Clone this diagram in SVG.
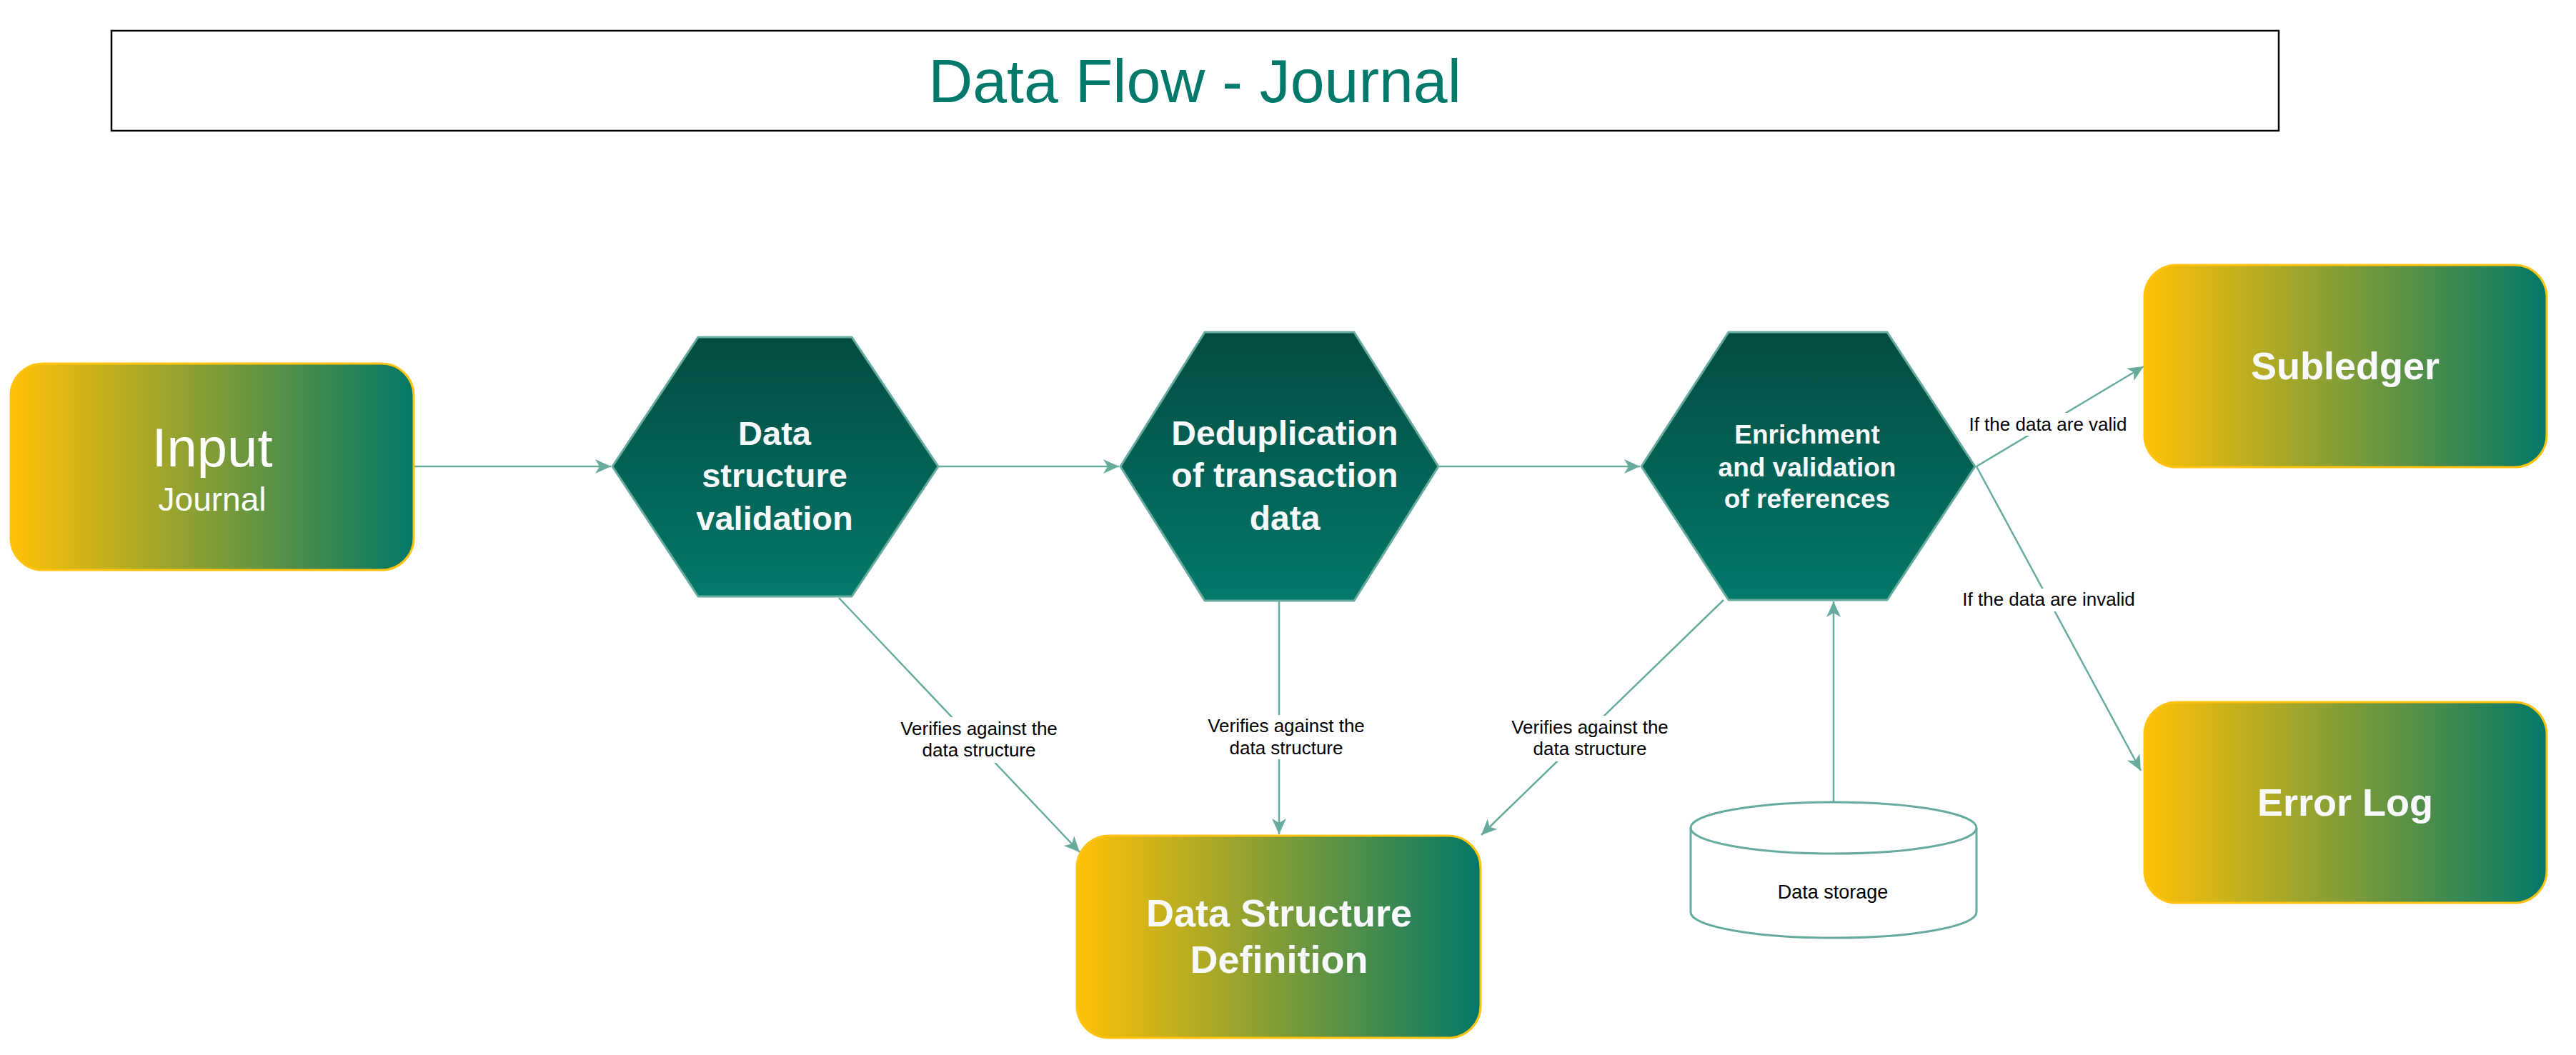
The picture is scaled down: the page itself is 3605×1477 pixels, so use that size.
<svg xmlns="http://www.w3.org/2000/svg" width="3605" height="1477" viewBox="0 0 3605 1477">
<style>
.hex{stroke:#67AB9F;stroke-width:3;stroke-linejoin:round;fill:url(#hexGrad)}
.box{stroke:#FFC20E;stroke-width:3;fill:url(#boxGrad)}
.ht{font-family:"Liberation Sans",Arial,sans-serif;font-weight:bold;fill:#F8F9FC;text-anchor:middle}
.bt{font-family:"Liberation Sans",Arial,sans-serif;font-weight:bold;fill:#F8F9FC;text-anchor:middle;font-size:54px}
.conn{stroke:#67AB9F;stroke-width:2.5;fill:none;marker-end:url(#arrow)}
.lbl{font-family:"Liberation Sans",Arial,sans-serif;font-size:26px;fill:#000;text-anchor:middle}
.lblbg{fill:#FFFFFF}
</style>
<defs>
<linearGradient id="hexGrad" x1="0" y1="0" x2="0" y2="1">
<stop offset="0" stop-color="#034B40"/>
<stop offset="1" stop-color="#04796A"/>
</linearGradient>
<linearGradient id="boxGrad" x1="0" y1="0" x2="1" y2="0">
<stop offset="0" stop-color="#FFC107"/>
<stop offset="1" stop-color="#027867"/>
</linearGradient>
<marker id="arrow" markerUnits="userSpaceOnUse" markerWidth="24" markerHeight="22" refX="22" refY="11" orient="auto" viewBox="0 0 24 22">
<path d="M0,1 L22,11 L0,21 L6,11 Z" fill="#67AB9F"/>
</marker>
</defs>
<rect width="3605" height="1477" fill="#FFFFFF"/>

<g id="title">
<rect x="156" y="43" width="3033" height="140" fill="#FFFFFF" stroke="#000000" stroke-width="2.5"/>
<text x="1672" y="143" font-family="Liberation Sans,Arial,sans-serif" font-size="86" fill="#00796B" text-anchor="middle">Data Flow - Journal</text>
</g>

<g id="connectors">
<line class="conn" x1="579" y1="653" x2="855" y2="653"/>
<line class="conn" x1="1313" y1="653" x2="1566" y2="653"/>
<line class="conn" x1="2013" y1="653" x2="2295" y2="653"/>
<line class="conn" x1="2766" y1="653" x2="3000" y2="513"/>
<line class="conn" x1="2766" y1="653" x2="2996" y2="1079"/>
<line class="conn" x1="1174" y1="837" x2="1511" y2="1193"/>
<line class="conn" x1="1790" y1="841" x2="1790" y2="1168"/>
<line class="conn" x1="2412" y1="840" x2="2073" y2="1169"/>
<line class="conn" x1="2566" y1="1123" x2="2566" y2="842"/>
<rect class="lblbg" x="2752" y="578" width="228" height="32"/>
<text class="lbl" x="2866" y="603">If the data are valid</text>
<rect class="lblbg" x="2744" y="824" width="246" height="32"/>
<text class="lbl" x="2867" y="848">If the data are invalid</text>
<rect class="lblbg" x="1256" y="1004" width="228" height="64"/>
<text class="lbl" x="1370" y="1029">Verifies against the</text>
<text class="lbl" x="1370" y="1059">data structure</text>
<rect class="lblbg" x="1686" y="1001" width="228" height="62"/>
<text class="lbl" x="1800" y="1025">Verifies against the</text>
<text class="lbl" x="1800" y="1056">data structure</text>
<rect class="lblbg" x="2111" y="1002" width="228" height="64"/>
<text class="lbl" x="2225" y="1027">Verifies against the</text>
<text class="lbl" x="2225" y="1057">data structure</text>
</g>

<g id="input">
<rect class="box" x="15" y="509" width="564" height="289" rx="45" ry="45"/>
<text x="297" y="653" font-family="Liberation Sans,Arial,sans-serif" font-size="76" fill="#FFFFFF" text-anchor="middle">Input</text>
<text x="297" y="715" font-family="Liberation Sans,Arial,sans-serif" font-size="46" fill="#FFFFFF" text-anchor="middle">Journal</text>
</g>

<g id="data-structure-validation">
<polygon class="hex" points="977,472 1192,472 1313,653 1192,835 977,835 857,653"/>
<text class="ht" font-size="47" x="1084" y="623">Data</text>
<text class="ht" font-size="47" x="1084" y="682">structure</text>
<text class="ht" font-size="47" x="1084" y="742">validation</text>
</g>

<g id="deduplication">
<polygon class="hex" points="1686,465 1895,465 2013,653 1895,841 1686,841 1568,653"/>
<text class="ht" font-size="48" x="1798" y="623">Deduplication</text>
<text class="ht" font-size="48" x="1798" y="682">of transaction</text>
<text class="ht" font-size="48" x="1798" y="742">data</text>
</g>

<g id="enrichment">
<polygon class="hex" points="2419,465 2641,465 2764,653 2641,840 2419,840 2297,653"/>
<text class="ht" font-size="37" x="2529" y="621">Enrichment</text>
<text class="ht" font-size="37" x="2529" y="667">and validation</text>
<text class="ht" font-size="37" x="2529" y="711">of references</text>
</g>

<g id="subledger">
<rect class="box" x="3001" y="371" width="563" height="283" rx="45" ry="45"/>
<text class="bt" x="3282" y="531">Subledger</text>
</g>

<g id="error-log">
<rect class="box" x="3001" y="983" width="563" height="281" rx="45" ry="45"/>
<text class="bt" x="3282" y="1142">Error Log</text>
</g>

<g id="data-structure-definition">
<rect class="box" x="1507" y="1170" width="565" height="283" rx="45" ry="45"/>
<text class="bt" x="1790" y="1297">Data Structure</text>
<text class="bt" x="1790" y="1362">Definition</text>
</g>

<g id="data-storage">
<path d="M2366,1159 A200,36 0 0 1 2766,1159 L2766,1277 A200,36 0 0 1 2366,1277 Z" fill="#FFFFFF" stroke="#67AB9F" stroke-width="3"/>
<path d="M2366,1159 A200,36 0 0 0 2766,1159" fill="none" stroke="#67AB9F" stroke-width="3"/>
<text x="2565" y="1258" font-family="Liberation Sans,Arial,sans-serif" font-size="27" fill="#000000" text-anchor="middle">Data storage</text>
</g>
</svg>
